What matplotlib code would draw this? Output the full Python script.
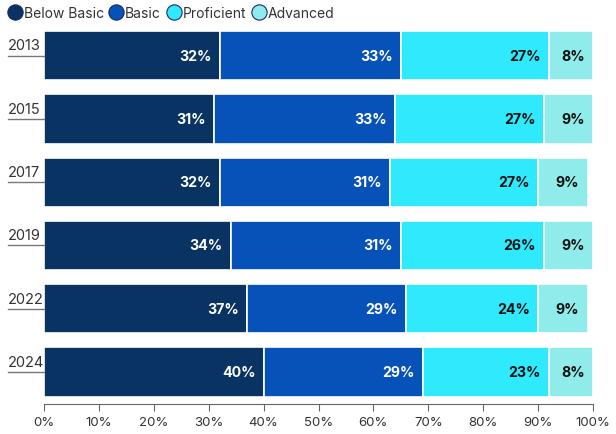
import numpy as np
import matplotlib.pyplot as plt

# --- data ---
years = ["2013", "2015", "2017", "2019", "2022", "2024"]
levels = ["Below Basic", "Basic", "Proficient", "Advanced"]
below_basic = [32, 31, 32, 34, 37, 40]
basic = [33, 33, 31, 31, 29, 29]
proficient = [27, 27, 27, 26, 24, 23]
advanced = [8, 9, 9, 9, 9, 8]

colors = ["#083363", "#0652b8", "#2eeafc", "#90ecea"]
text_colors = ["white", "white", "#111111", "#111111"]

plt.rcParams['font.family'] = ['Inter', 'DejaVu Sans']

fig = plt.figure(figsize=(6.16, 4.35), dpi=100)
ax = fig.add_axes([44 / 616, 30 / 435, 549 / 616, 380 / 435])

series = [below_basic, basic, proficient, advanced]
y = np.arange(len(years))
left = np.zeros(len(years))
for vals, col, tcol, name in zip(series, colors, text_colors, levels):
    vals = np.array(vals)
    ax.barh(y, vals, left=left, height=0.78, color=col, edgecolor="white",
            linewidth=1.2, label=name)
    for yi, l, v in zip(y, left, vals):
        ax.annotate(f"{v}%", (l + v, yi), xytext=(-6, 0), textcoords="offset points",
                    ha="right", va="center", fontsize=10.2, fontweight="bold", color=tcol)
    left += vals

ax.set_xlim(0, 100)
ax.set_ylim(len(years) - 1 + 0.505, -0.5)
ax.set_xticks(np.arange(0, 101, 10))
ax.set_xticklabels([f"{t}%" for t in range(0, 101, 10)])
ax.set_yticks([])
for s in ["top", "right", "left"]:
    ax.spines[s].set_visible(False)
ax.spines["bottom"].set_color("#666666")
ax.tick_params(axis="x", colors="#666666", labelcolor="#333333", length=5, labelsize=9.5)

# year labels sitting on a short rule
tr = ax.get_yaxis_transform()
for yi, yr in zip(y, years):
    ax.plot([-36 / 549, 0], [yi, yi], transform=tr, color="#777777", lw=1, clip_on=False)
    ax.text(-36 / 549, yi - 0.05, yr, transform=tr, ha="left", va="bottom",
            fontsize=10.5, color="#333333")

handles = [plt.Line2D([], [], marker="o", ls="", markersize=11, markerfacecolor=c,
                      markeredgecolor="#1a2a6a", markeredgewidth=0.8) for c in colors]
fig.legend(handles, levels, loc="upper left", bbox_to_anchor=(-0.008, 1.012), ncol=4,
           frameon=False, handletextpad=0.15, columnspacing=0.4, fontsize=10,
           handlelength=1.0, labelcolor="#333333")

fig.savefig("out.png", dpi=100)
